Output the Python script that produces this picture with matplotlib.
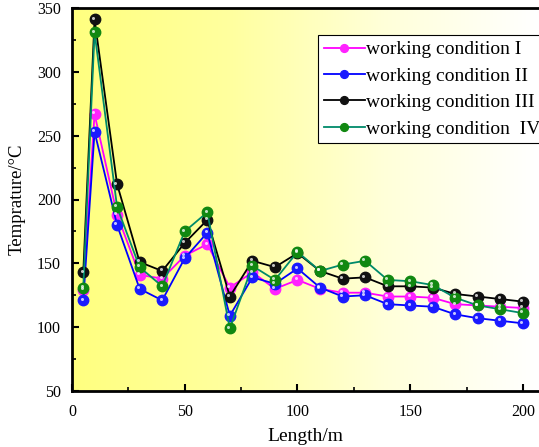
import matplotlib.pyplot as plt
import numpy as np
from matplotlib.colors import LinearSegmentedColormap
from matplotlib.ticker import MultipleLocator
import matplotlib.transforms as mtransforms

plt.rcParams['font.family'] = ['Liberation Serif', 'DejaVu Serif']

length = [5, 10, 20, 30, 40, 50, 60, 70, 80, 90, 100, 110, 120, 130, 140, 150, 160, 170, 180, 190, 200]
cond1 = [129, 267, 188, 141, 138, 156, 165, 131, 143, 130, 137, 130, 127, 127, 124, 124, 123, 118, 117, 116, 115]
cond2 = [121, 253, 180, 130, 121, 154, 174, 109, 139, 134, 146, 131, 124, 125, 118, 117, 116, 110, 107, 105, 103]
cond3 = [143, 341, 212, 151, 144, 166, 184, 124, 152, 147, 158, 144, 138, 139, 132, 132, 131, 126, 124, 122, 120]
cond4 = [131, 331, 194, 147, 132, 175, 190, 99, 148, 137, 159, 144, 149, 152, 137, 136, 133, 123, 117, 114, 111]

labels = ['working condition I', 'working condition II', 'working condition III', 'working condition  IV']
line_colors = ['#ff00ff', '#0000ff', '#000000', '#008a6a']
marker_colors = ['#ff22ff', '#1a1aff', '#111111', '#118811']

fig = plt.figure(figsize=(5.39, 4.47), dpi=100)
ax = fig.add_axes([72/539, 1-391/447, 1-72/539, 383/447])
ax.set_xlim(0, 207.1)
ax.set_ylim(50, 350)

# yellow-to-white background
cmap = LinearSegmentedColormap.from_list('bg', [(1, 1, 0.5), (1, 1, 0.62), (1, 1, 0.85), (1, 1, 1)])
grad = np.linspace(0, 1, 256).reshape(1, -1)
ax.imshow(grad, extent=[0, 207.1, 50, 350], aspect='auto', cmap=cmap, zorder=0)

series = [cond1, cond2, cond3, cond4]
hl = mtransforms.offset_copy(ax.transData, fig=fig, x=-1.2, y=1.2, units='points')
for vals, lc, mc, lab in zip(series, line_colors, marker_colors, labels):
    ax.plot(length, vals, color=lc, lw=1.3, marker='o', ms=7.5, mfc=mc, mec=mc, label=lab, zorder=3)
    ax.plot(length, vals, ls='none', marker='o', ms=2.2, mfc='white', mec='none', alpha=0.75,
            transform=hl, zorder=4)

ax.xaxis.set_major_locator(MultipleLocator(50))
ax.xaxis.set_minor_locator(MultipleLocator(25))
ax.yaxis.set_major_locator(MultipleLocator(50))
ax.yaxis.set_minor_locator(MultipleLocator(25))
ax.tick_params(which='both', direction='in', top=False, right=False, labelsize=11.5)
ax.tick_params(which='major', length=5, width=1.5)
ax.tick_params(which='minor', length=3, width=1.2)
ax.tick_params(axis='x', pad=9)
ax.tick_params(axis='y', pad=8)
for s in ['left', 'bottom', 'top']:
    ax.spines[s].set_linewidth(2)
ax.spines['right'].set_visible(False)

ax.set_xlabel('Length/m', fontsize=14, labelpad=6)
ax.set_ylabel('Temprature/\u00b0C', fontsize=13.5, labelpad=8)

leg = ax.legend(loc='upper left', bbox_to_anchor=(318/539, 1-35/447), bbox_transform=fig.transFigure,
                fontsize=14, frameon=True, fancybox=False, edgecolor='black', framealpha=1,
                handlelength=2.1, handletextpad=0.05, borderpad=0.3, labelspacing=0.45, borderaxespad=0,
                markerscale=0.75)
leg.get_frame().set_linewidth(0.8)

fig.savefig('out.png', dpi=100)
